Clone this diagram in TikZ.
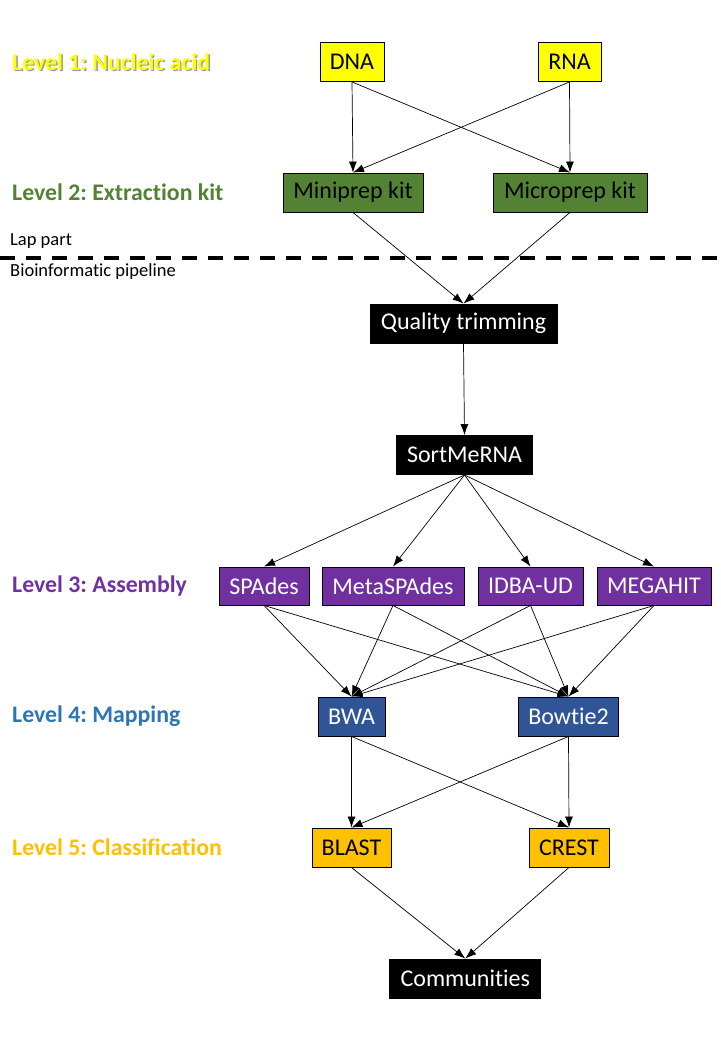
\documentclass[tikz,border=0pt]{standalone}
\usepackage{fontspec}
\setmainfont[Ligatures=NoCommon]{Carlito}
\usetikzlibrary{arrows.meta}
\frenchspacing
\definecolor{yel}{HTML}{FFFF00}
\definecolor{grn}{HTML}{548235}
\definecolor{pur}{HTML}{7030A0}
\definecolor{blu}{HTML}{2F5597}
\definecolor{blutxt}{HTML}{2E75B6}
\definecolor{org}{HTML}{FFC000}
\tikzset{
  box/.style={draw=black, line width=0.9pt, inner sep=0pt, minimum height=39pt, font=\fontsize{24}{26}\selectfont},
  lvl/.style={anchor=west, inner sep=0pt, font=\fontsize{23.8}{26}\selectfont\bfseries},
  note/.style={anchor=west, inner sep=0pt, font=\fontsize{18.5}{21}\selectfont},
  arr/.style={-{Latex[length=11pt,width=8pt]}, line width=0.7pt},
}
\begin{document}
\begin{tikzpicture}[x=1pt,y=-1pt]
\useasboundingbox (0,0) rectangle (720,1040);
% level labels
\node[lvl, text=gray!80] at (13.4,63.4) {Level 1: Nucleic acid};
\node[lvl, text=yel] (l1) at (12,62) {Level 1: Nucleic acid};
\node[lvl, text=grn] (l2) at (12,192) {Level 2: Extraction kit};
\node[lvl, text=pur] (l3) at (12,586) {Level 3: Assembly};
\node[lvl, text=blutxt] (l4) at (12,716) {Level 4: Mapping};
\node[lvl, text=org] (l5) at (12,847) {Level 5: Classification};
\node[note] (lap) at (10,241) {Lap part};
\node[note] (bio) at (10,272) {Bioinformatic pipeline};
\coordinate (dl) at (0,258);
\coordinate (dr) at (720,258);
\draw[line width=3.6pt, dash pattern=on 15pt off 11pt] (dl) -- (dr);
% boxes
\node[box, fill=yel, minimum width=64pt] (dna) at (352,62) {DNA};
\node[box, fill=yel, minimum width=63pt] (rna) at (569.5,62) {RNA};
\node[box, fill=grn, minimum width=140pt] (mini) at (353,192.5) {Miniprep kit};
\node[box, fill=grn, minimum width=154pt] (micro) at (570,192.5) {Microprep kit};
\node[box, fill=black, text=white, minimum width=187pt] (qt) at (463.5,323.5) {Quality trimming};
\node[box, fill=black, text=white, minimum width=136pt] (smr) at (464.5,455) {SortMeRNA};
\node[box, fill=pur, text=white, minimum width=90pt, minimum height=38pt] (spa) at (264,586) {SPAdes};
\node[box, fill=pur, text=white, minimum width=142pt, minimum height=38pt] (meta) at (393,586) {MetaSPAdes};
\node[box, fill=pur, text=white, minimum width=105pt, minimum height=38pt] (idba) at (530.5,586) {IDBA-UD};
\node[box, fill=pur, text=white, minimum width=114pt, minimum height=38pt] (mega) at (654,586) {MEGAHIT};
\node[box, fill=blu, text=white, minimum width=67pt] (bwa) at (351.5,716.5) {BWA};
\node[box, fill=blu, text=white, minimum width=100pt] (bow) at (568.5,716.5) {Bowtie2};
\node[box, fill=org, minimum width=79pt] (blast) at (351.5,847.5) {BLAST};
\node[box, fill=org, minimum width=80pt] (crest) at (569,847.5) {CREST};
\node[box, fill=black, text=white, minimum width=151pt] (com) at (465.3,978.5) {Communities};
% arrows
\foreach \a/\b in {dna/mini, dna/micro, rna/mini, rna/micro, mini/qt, micro/qt, qt/smr,
  smr/spa, smr/meta, smr/idba, smr/mega,
  spa/bwa, spa/bow, meta/bwa, meta/bow, idba/bwa, idba/bow, mega/bwa, mega/bow,
  bwa/blast, bwa/crest, bow/blast, bow/crest, blast/com, crest/com}
  \draw[arr] (\a.south) -- (\b.north);
\end{tikzpicture}
\end{document}
